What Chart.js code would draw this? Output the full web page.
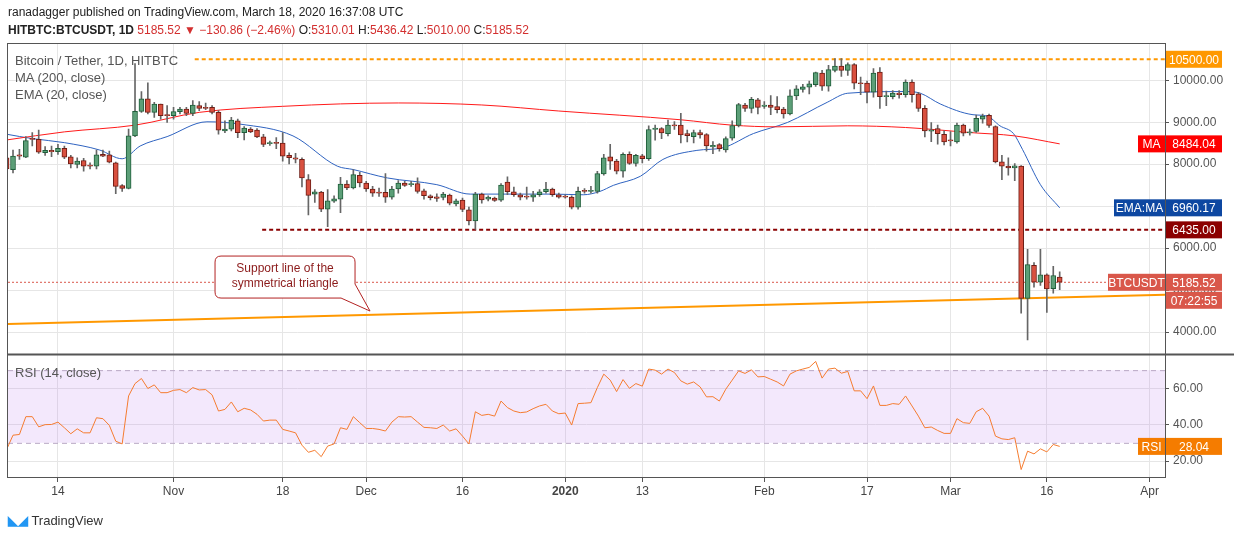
<!DOCTYPE html>
<html lang="en">
<head>
<meta charset="UTF-8">
<title>BTCUSDT 1D</title>
<script src="https://cdn.jsdelivr.net/npm/chart.js"></script>
<style>
    body { margin: 0; background: #fff; font-family: "Liberation Sans", Arial, sans-serif; }
    #wrap { position: relative; width: 1234px; height: 541px; overflow: hidden; }
    canvas { position: absolute; left: 0; top: 0; }
    .txt { position: absolute; font-size: 12px; color: #555; white-space: nowrap; }
    .hdr { position: absolute; left: 8px; font-size: 12px; color: #222; white-space: nowrap; }
    .red { color: #d32f2f; }
</style>
</head>
<body>
<div id="wrap">
    <canvas id="chart" width="1234" height="541"></canvas>
    <div class="hdr" style="top:5px;">ranadagger published on TradingView.com, March 18, 2020 16:37:08 UTC</div>
    <div class="hdr" style="top:23px;"><b>HITBTC:BTCUSDT, 1D</b> <span class="red">5185.52 ▼ −130.86 (−2.46%)</span> O:<span class="red">5310.01</span> H:<span class="red">5436.42</span> L:<span class="red">5010.00</span> C:<span class="red">5185.52</span></div>
    <div class="txt" style="left:15px;top:53px;font-size:13px;">Bitcoin / Tether, 1D, HITBTC</div>
    <div class="txt" style="left:15px;top:70px;font-size:13px;">MA (200, close)</div>
    <div class="txt" style="left:15px;top:87px;font-size:13px;">EMA (20, close)</div>
    <div class="txt" style="left:15px;top:365px;font-size:13px;">RSI (14, close)</div>
    <div class="txt" style="left:8px;top:513px;font-size:13px;color:#333;"><span style="color:#2196f3;font-weight:bold;">◣◢</span> TradingView</div>
</div>
<script>
// day index 0 = 2019-10-06, one candle per day up to 2020-03-18 (day 164)
const opens = [8153,7872,8225,8169,8610,8593,8273,8329,8297,8377,8177,7992,8088,7968,7952,8233,8225,8032,7488,7424,
    8673,9259,9555,9235,9435,9170,9155,9251,9315,9211,9395,9355,9355,9235,8794,8834,9034,8753,8834,8810,
    8649,8489,8513,8500,8209,8153,8113,7632,7287,7335,6927,7119,7167,7528,7432,7736,7552,7408,7327,7327,
    7215,7408,7552,7512,7536,7367,7247,7223,7207,7263,7055,7143,6911,6646,7287,7167,7191,7143,7576,7343,
    7271,7231,7215,7271,7343,7408,7271,7231,7215,6975,7367,7351,7351,7768,8177,8073,7833,8233,8017,8201,
    8129,8826,8850,8730,8930,8930,8730,8658,8754,8706,8409,8465,8337,8618,8922,9411,9331,9531,9379,9411,
    9371,9315,9195,9627,9780,9836,9892,10172,9860,10236,10340,10236,10373,9932,9932,9715,10196,9611,9611,9692,
    9659,9956,9675,9331,8786,8850,8714,8570,8530,8930,8746,8778,9074,9163,8898,8056,7953,7913,7953,4804,
    5589,5188,5364,5036,5310.01];
const highs = [8200,8337,8353,8657,8753,8810,8417,8433,8473,8433,8209,8153,8137,8032,8337,8337,8313,8048,7512,8834,
    10396,9731,9940,9475,9435,9395,9355,9355,9355,9515,9491,9459,9395,9275,9034,9114,9074,8898,8874,8850,
    8713,8553,8633,8754,8273,8257,8153,7752,7392,7352,7392,7247,7688,7608,7872,7808,7592,7472,7432,7776,
    7472,7608,7592,7592,7672,7408,7271,7295,7327,7287,7167,7191,6975,7327,7311,7247,7215,7536,7696,7456,
    7311,7456,7351,7392,7568,7432,7311,7271,7247,7456,7416,7472,7832,8233,8473,8113,8273,8297,8233,8233,
    8914,8930,8874,9050,9018,9211,8810,8810,8810,8730,8537,8489,8650,9034,9451,9451,9595,9571,9491,9635,
    9611,9355,9772,9876,9900,9980,10196,10236,10357,10517,10517,10413,10397,10076,9980,10276,10300,9740,9756,9756,
    10012,10012,9715,9395,8994,8930,8794,8778,8978,8954,8834,9171,9195,9195,8914,8209,8153,8017,7969,5973,
    5653,5973,5388,5565,5436.42];
const lows = [7850,7792,8113,8153,8433,8257,8209,8177,8233,8129,7912,7912,7832,7888,7888,8177,8032,7295,7352,7408,
    8657,9235,9195,9114,9074,8994,9074,9195,9155,9155,9275,9299,9195,8713,8753,8794,8633,8577,8753,8633,
    8417,8449,8369,8073,8009,8033,7456,6791,7087,6871,6510,7087,6847,7392,7408,7456,7352,7231,7231,7087,
    7167,7311,7472,7472,7311,7167,7151,7111,7151,7031,7007,6871,6550,6446,7071,7127,7111,7111,7271,7231,
    7151,7167,7111,7231,7311,7231,7191,7191,6935,6927,7311,7311,7311,7736,7873,7768,7688,7993,7953,8033,
    8089,8570,8610,8674,8826,8506,8530,8506,8618,8313,8249,8313,8289,8570,8890,9259,9219,9195,9331,9179,
    9219,9098,9171,9539,9715,9675,9852,9756,9740,10196,10092,10116,9796,9659,9459,9595,9331,9395,9555,9571,
    9595,9475,9259,8650,8538,8474,8458,8433,8498,8674,8690,8754,8978,8874,8033,7632,7737,7608,4451,3810,
    5068,5108,4467,4924,5010];
const closes = [7888,8193,8193,8561,8590,8289,8329,8297,8377,8169,8008,8072,7952,7952,8225,8193,8048,7472,7424,8673,
    9259,9555,9235,9435,9155,9155,9251,9315,9211,9411,9331,9331,9235,8810,8834,9050,8753,8858,8770,8649,
    8473,8513,8497,8193,8153,8121,7672,7255,7343,6927,7127,7175,7528,7432,7752,7552,7408,7311,7311,7215,
    7408,7552,7496,7536,7351,7247,7199,7183,7287,7071,7127,6919,6646,7287,7151,7215,7135,7504,7343,7271,
    7215,7215,7271,7343,7408,7271,7215,7215,6975,7351,7351,7367,7776,8153,8073,7833,8233,8017,8209,8129,
    8826,8858,8746,8930,8914,8698,8682,8754,8698,8433,8449,8369,8610,8922,9419,9331,9547,9355,9411,9355,
    9299,9195,9627,9796,9844,9916,10180,9860,10252,10340,10236,10373,9932,9916,9715,10172,9611,9627,9692,9659,
    9956,9659,9331,8794,8818,8730,8530,8554,8930,8738,8762,9090,9146,8922,8056,7953,7913,7961,4804,5605,
    5188,5364,5028,5348,5185.52];

const rsiValues = [26.3,34.2,34.6,44.4,44.4,38.8,40.0,40.1,41.4,38.3,35.0,37.7,35.5,35.5,43.8,43.3,39.6,30.9,29.4,55.8,
    62.6,65.4,59.9,61.9,57.6,57.6,58.9,59.3,57.6,60.4,59.1,59.3,56.4,47.5,48.4,52.5,47.1,49.0,48.1,45.7,
    42.0,42.5,42.5,37.4,36.5,35.5,28.7,24.8,25.9,22.4,28.2,29.4,38.3,37.4,44.4,41.1,37.9,37.9,37.4,36.5,
    41.4,44.4,44.2,44.4,41.4,38.5,38.3,37.9,39.8,36.5,37.7,33.7,29.4,47.1,45.1,45.7,44.7,53.0,49.4,47.5,
    46.6,47.0,48.8,50.3,51.2,47.5,46.0,46.4,39.8,51.6,51.8,52.1,60.4,67.8,64.5,58.2,64.8,60.0,62.6,61.2,
    70.6,70.0,67.8,70.6,68.7,64.1,62.3,63.5,60.8,55.3,55.4,53.0,59.5,64.5,69.6,68.2,70.2,66.3,66.5,65.0,
    63.5,61.3,67.8,69.6,70.6,71.5,74.8,65.6,70.6,71.1,68.3,69.3,58.6,58.6,54.3,61.3,50.6,50.6,51.6,51.2,
    55.8,50.3,44.7,38.3,38.7,36.8,35.2,35.2,43.3,41.1,40.7,47.1,49.0,44.7,33.7,32.2,31.8,32.8,15.3,25.4,
    23.9,26.7,25.0,29.1,28.04];

// moving averages at sample days
const maDays = [0,9,20,30,43,61,74,86,105,113,120,131,140,150,157,164];
const maValues = [8577,8770,8930,9235,9379,9459,9411,9267,9058,8930,8890,8914,8874,8754,8674,8484.04];
const emaDays = [0,4,9,14.5,18,20.8,25,31.2,36.4,44.6,51.5,54,59.3,67,72.2,77.3,85.1,89.8,92.4,94.5,98.7,102.2,107.5,
    111.6,116.3,121.6,127.8,131,140.2,142.3,145.4,150.5,152.7,154.7,156.8,158.2,161,164];
const emaValues = [8714,8610,8513,8337,8129,8433,8657,9010,8954,8674,7953,7872,7672,7512,7287,7287,7287,7271,7351,7496,7712,8113,
    8329,8393,8730,8994,9475,9691,9731,9691,9435,9179,9146,8914,8730,8354,7512,6960.17];

const resistanceTop = 10500;
const resistanceMid = 6435;
const supportDays = [0.2, 180.4];
const supportValues = [4194, 4891];
const lastPrice = 5185.52;
const maLast = 8484.04, emaLast = 6960.17, rsiLast = 28.04;

const tickDays = [8, 26, 43, 56, 71, 87, 99, 118, 134, 147, 162, 178];
const tickNames = ['14', 'Nov', '18', 'Dec', '16', '2020', '13', 'Feb', '17', 'Mar', '16', 'Apr'];
const priceTicks = [4000, 5000, 6000, 7000, 8000, 9000, 10000];
const rsiTicks = [20, 40, 60];

const X_MIN = 0.22, X_MAX = 180.4;
const UP = '#5c9f78', UP_B = '#1f5e3a', DN = '#d9503f', DN_B = '#6e1d15';

const bodies = opens.map((o, i) => {
    const lo = Math.min(o, closes[i]);
    const hi = Math.max(o, closes[i]);
    return { x: i, y: [lo, Math.max(hi, lo + 25)] };
});
const wicks = opens.map((o, i) => ({ x: i, y: [lows[i], highs[i]] }));
const isUp = opens.map((o, i) => closes[i] >= o);

const font = "'Liberation Sans', Arial, sans-serif";

function box(ctx, x, y, w, h, bg, text, color) {
    ctx.fillStyle = bg;
    ctx.fillRect(x, y - h / 2, w, h);
    ctx.fillStyle = color || '#fff';
    ctx.font = '12px ' + font;
    ctx.textAlign = 'center';
    ctx.textBaseline = 'middle';
    ctx.fillText(text, x + w / 2, y + 1);
}

const overlay = {
    id: 'overlay',
    beforeDatasetsDraw(chart) {
        const { ctx, chartArea: a, scales } = chart;
        const r = scales.rsi;
        const y70 = r.getPixelForValue(70), y30 = r.getPixelForValue(30);
        ctx.save();
        ctx.fillStyle = 'rgba(190, 130, 240, 0.18)';
        ctx.fillRect(a.left, y70, a.right - a.left, y30 - y70);
        ctx.strokeStyle = '#b8a8c4';
        ctx.setLineDash([5, 4]);
        ctx.lineWidth = 1;
        [y70, y30].forEach(y => {
            ctx.beginPath(); ctx.moveTo(a.left, y + 0.5); ctx.lineTo(a.right, y + 0.5); ctx.stroke();
        });
        ctx.restore();
    },
    afterDraw(chart) {
        const { ctx, chartArea: a, scales } = chart;
        const p = scales.y, r = scales.rsi, x = scales.x;
        ctx.save();
        // frame and pane divider
        ctx.strokeStyle = '#555';
        ctx.lineWidth = 1;
        const div = Math.round(p.bottom) + 0.5;
        ctx.strokeRect(a.left - 0.5, a.top - 0.5, a.right - a.left + 1, a.bottom - a.top + 1);
        ctx.lineWidth = 2;
        ctx.beginPath(); ctx.moveTo(a.left, div); ctx.lineTo(1234, div); ctx.stroke();

        // callout
        const tipX = x.getPixelForValue(56.6);
        const tipY = p.getPixelForValue(4500);
        const bx = tipX - 155, by = tipY - 55, bw = 140, bh = 42;
        ctx.fillStyle = '#fff';
        ctx.strokeStyle = '#b22222';
        ctx.lineWidth = 1;
        ctx.beginPath();
        ctx.moveTo(bx + 6, by);
        ctx.lineTo(bx + bw - 6, by);
        ctx.quadraticCurveTo(bx + bw, by, bx + bw, by + 6);
        ctx.lineTo(bx + bw, by + bh - 14);
        ctx.lineTo(tipX, tipY);
        ctx.lineTo(bx + bw - 14, by + bh);
        ctx.lineTo(bx + 6, by + bh);
        ctx.quadraticCurveTo(bx, by + bh, bx, by + bh - 6);
        ctx.lineTo(bx, by + 6);
        ctx.quadraticCurveTo(bx, by, bx + 6, by);
        ctx.closePath();
        ctx.fill(); ctx.stroke();
        ctx.fillStyle = '#8b1a1a';
        ctx.font = '12px ' + font;
        ctx.textAlign = 'center';
        ctx.textBaseline = 'middle';
        ctx.fillText('Support line of the', bx + bw / 2, by + 13);
        ctx.fillText('symmetrical triangle', bx + bw / 2, by + 28);

        // price scale labels
        const ax = a.right + 1, w = 56, h = 17;
        box(ctx, ax, p.getPixelForValue(resistanceTop), w, h, '#ff9800', '10500.00');
        box(ctx, ax - 28, p.getPixelForValue(maLast), 27, h, '#ff0000', 'MA');
        box(ctx, ax, p.getPixelForValue(maLast), w, h, '#ff0000', maLast.toFixed(2));
        box(ctx, ax - 52, p.getPixelForValue(emaLast), 51, h, '#0d47a1', 'EMA:MA');
        box(ctx, ax, p.getPixelForValue(emaLast), w, h, '#0d47a1', emaLast.toFixed(2));
        box(ctx, ax, p.getPixelForValue(resistanceMid), w, h, '#8b0000', '6435.00');
        const ly = p.getPixelForValue(lastPrice);
        box(ctx, ax - 58, ly, 57, h, '#d9574a', 'BTCUSDT');
        box(ctx, ax, ly, w, h, '#d9574a', lastPrice.toFixed(2));
        box(ctx, ax, ly + 18, w, h, '#d9574a', '07:22:55');
        const ry = r.getPixelForValue(rsiLast);
        box(ctx, ax - 28, ry, 27, h, '#f57c00', 'RSI');
        box(ctx, ax, ry, w, h, '#f57c00', rsiLast.toFixed(2));
        ctx.restore();
    }
};

const fixedWidth = s => { s.width = 69; };

new Chart(document.getElementById('chart'), {
    type: 'bar',
    data: {
        datasets: [
            { type: 'line', data: supportDays.map((d, i) => ({ x: d, y: supportValues[i] })), yAxisID: 'y',
              borderColor: '#ff9800', borderWidth: 2, pointRadius: 0, order: 5 },
            { type: 'line', data: [{ x: 29.3, y: resistanceTop }, { x: X_MAX, y: resistanceTop }], yAxisID: 'y',
              borderColor: '#ff9800', borderWidth: 2, borderDash: [4, 3], pointRadius: 0, order: 5 },
            { type: 'line', data: [{ x: 39.8, y: resistanceMid }, { x: X_MAX, y: resistanceMid }], yAxisID: 'y',
              borderColor: '#8b0000', borderWidth: 2, borderDash: [4, 3], pointRadius: 0, order: 5 },
            { type: 'line', data: [{ x: X_MIN, y: lastPrice }, { x: X_MAX, y: lastPrice }], yAxisID: 'y',
              borderColor: '#d9574a', borderWidth: 1, borderDash: [2, 2], pointRadius: 0, order: 5 },
            { type: 'line', data: maDays.map((d, i) => ({ x: d, y: maValues[i] })), yAxisID: 'y',
              borderColor: '#ff1a1a', borderWidth: 1, pointRadius: 0, cubicInterpolationMode: 'monotone', order: 4 },
            { type: 'line', data: emaDays.map((d, i) => ({ x: d, y: emaValues[i] })), yAxisID: 'y',
              borderColor: '#2f63c0', borderWidth: 1, pointRadius: 0, cubicInterpolationMode: 'monotone', order: 4 },
            { data: wicks, yAxisID: 'y', backgroundColor: '#666', barThickness: 1, grouped: false, order: 3 },
            { data: bodies, yAxisID: 'y', barThickness: 5, grouped: false, borderWidth: 1, borderSkipped: false,
              backgroundColor: isUp.map(u => u ? UP : DN), borderColor: isUp.map(u => u ? UP_B : DN_B), order: 2 },
            { type: 'line', data: rsiValues.map((v, i) => ({ x: i, y: v })), yAxisID: 'rsi',
              borderColor: '#f57c30', borderWidth: 1, pointRadius: 0, order: 1 }
        ]
    },
    options: {
        responsive: false,
        animation: false,
        events: [],
        layout: { padding: { top: 44, left: 8, right: 0, bottom: 40 } },
        plugins: { legend: { display: false }, tooltip: { enabled: false } },
        scales: {
            x: {
                type: 'linear', min: X_MIN, max: X_MAX, offset: false,
                afterBuildTicks: s => { s.ticks = tickDays.map(v => ({ value: v })); },
                afterFit: s => { s.height = 24; },
                ticks: {
                    autoSkip: false, maxRotation: 0, color: '#444', padding: 2,
                    font: c => ({ family: font, size: 12, weight: c.tick && c.tick.value === 87 ? 'bold' : 'normal' }),
                    callback: v => tickNames[tickDays.indexOf(v)]
                },
                grid: { color: '#e6e6e6', tickLength: 5, tickColor: '#555', offset: false },
                border: { color: '#555' }
            },
            y: {
                position: 'right', stack: 'main', stackWeight: 308, min: 3473, max: 10864,
                afterBuildTicks: s => { s.ticks = priceTicks.map(v => ({ value: v })); },
                afterFit: fixedWidth,
                ticks: { color: '#555', font: { family: font, size: 12 }, padding: 4, callback: v => v.toFixed(2) },
                grid: { color: '#e6e6e6', tickLength: 4, tickColor: '#555' },
                border: { color: '#555' }
            },
            rsi: {
                position: 'right', stack: 'main', stackWeight: 122, min: 11.2, max: 78.8,
                afterBuildTicks: s => { s.ticks = rsiTicks.map(v => ({ value: v })); },
                afterFit: fixedWidth,
                ticks: { color: '#555', font: { family: font, size: 12 }, padding: 4, callback: v => v.toFixed(2) },
                grid: { color: '#e6e6e6', tickLength: 4, tickColor: '#555' },
                border: { color: '#555' }
            }
        }
    },
    plugins: [overlay]
});
</script>
</body>
</html>
